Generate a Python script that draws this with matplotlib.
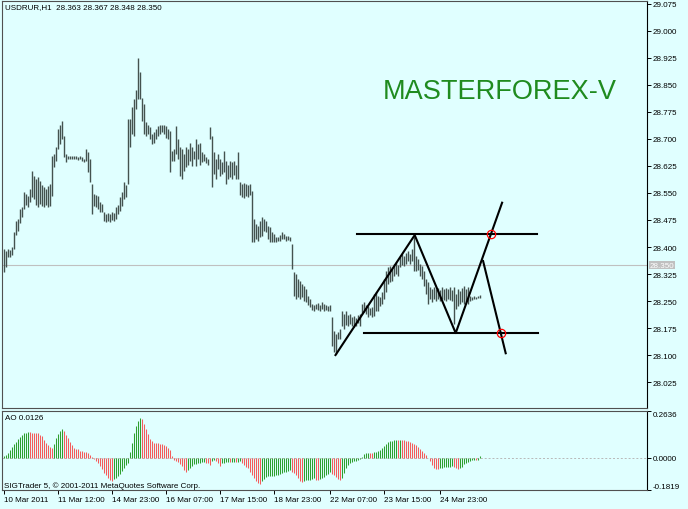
import numpy as np
import matplotlib.pyplot as plt
from matplotlib.transforms import blended_transform_factory

plt.rcParams['font.family'] = ['Liberation Sans', 'DejaVu Sans']

# USDRUR H1 bars (high / low), one per hour, oldest first
high = [
    28.394, 28.388, 28.394, 28.391, 28.399, 28.441, 28.471, 28.477, 28.505, 28.510,
    28.552, 28.546, 28.541, 28.560, 28.610, 28.596, 28.588, 28.593, 28.582, 28.571,
    28.566, 28.560, 28.568, 28.574, 28.652, 28.657, 28.677, 28.727, 28.740, 28.749,
    28.707, 28.657, 28.654, 28.652, 28.652, 28.652, 28.652, 28.649, 28.652, 28.649,
    28.643, 28.671, 28.663, 28.643, 28.574, 28.546, 28.544, 28.541, 28.524, 28.519,
    28.496, 28.491, 28.494, 28.491, 28.496, 28.494, 28.510, 28.516, 28.538, 28.552,
    28.580, 28.571, 28.754, 28.754, 28.788, 28.810, 28.837, 28.926, 28.885, 28.815,
    28.796, 28.746, 28.740, 28.732, 28.713, 28.718, 28.727, 28.735, 28.740, 28.738,
    28.738, 28.735, 28.727, 28.721, 28.666, 28.671, 28.735, 28.699, 28.677, 28.671,
    28.657, 28.679, 28.671, 28.690, 28.679, 28.666, 28.699, 28.685, 28.690, 28.663,
    28.657, 28.649, 28.643, 28.732, 28.707, 28.663, 28.643, 28.657, 28.643, 28.635,
    28.666, 28.638, 28.629, 28.638, 28.635, 28.638, 28.629, 28.663, 28.580, 28.574,
    28.577, 28.574, 28.571, 28.574, 28.555, 28.477, 28.463, 28.458, 28.471, 28.482,
    28.477, 28.471, 28.458, 28.455, 28.441, 28.436, 28.427, 28.427, 28.433, 28.441,
    28.436, 28.430, 28.430, 28.427, 28.408, 28.330, 28.324, 28.311, 28.305, 28.297,
    28.291, 28.283, 28.263, 28.255, 28.241, 28.238, 28.241, 28.244, 28.238, 28.247,
    28.241, 28.238, 28.236, 28.238, 28.205, 28.166, 28.158, 28.164, 28.172, 28.222,
    28.214, 28.222, 28.211, 28.214, 28.205, 28.208, 28.202, 28.211, 28.214, 28.241,
    28.247, 28.238, 28.236, 28.230, 28.233, 28.269, 28.275, 28.263, 28.261, 28.275,
    28.311, 28.333, 28.344, 28.347, 28.338, 28.352, 28.358, 28.349, 28.372, 28.380,
    28.374, 28.383, 28.388, 28.380, 28.394, 28.427, 28.374, 28.366, 28.352, 28.347,
    28.333, 28.311, 28.302, 28.288, 28.283, 28.288, 28.283, 28.286, 28.280, 28.288,
    28.283, 28.286, 28.283, 28.288, 28.280, 28.288, 28.269, 28.283, 28.277, 28.286,
    28.291, 28.283, 28.288, 28.263, 28.261, 28.263, 28.261, 28.263, 28.266,
]
low = [
    28.330, 28.344, 28.372, 28.372, 28.377, 28.394, 28.433, 28.444, 28.466, 28.482,
    28.505, 28.516, 28.510, 28.524, 28.538, 28.532, 28.516, 28.510, 28.519, 28.513,
    28.510, 28.516, 28.510, 28.513, 28.541, 28.621, 28.638, 28.671, 28.685, 28.699,
    28.649, 28.635, 28.643, 28.643, 28.643, 28.643, 28.643, 28.641, 28.643, 28.638,
    28.635, 28.638, 28.607, 28.580, 28.491, 28.513, 28.510, 28.505, 28.496, 28.496,
    28.471, 28.469, 28.471, 28.469, 28.474, 28.471, 28.477, 28.491, 28.499, 28.513,
    28.532, 28.538, 28.574, 28.679, 28.713, 28.707, 28.782, 28.810, 28.810, 28.749,
    28.713, 28.707, 28.713, 28.699, 28.685, 28.690, 28.699, 28.707, 28.713, 28.718,
    28.715, 28.704, 28.699, 28.607, 28.638, 28.638, 28.657, 28.643, 28.596, 28.588,
    28.610, 28.621, 28.629, 28.638, 28.624, 28.643, 28.624, 28.643, 28.629, 28.635,
    28.638, 28.632, 28.627, 28.699, 28.566, 28.602, 28.588, 28.616, 28.596, 28.602,
    28.607, 28.574, 28.588, 28.593, 28.588, 28.599, 28.588, 28.588, 28.544, 28.538,
    28.535, 28.541, 28.538, 28.544, 28.413, 28.413, 28.421, 28.416, 28.427, 28.430,
    28.444, 28.441, 28.421, 28.413, 28.413, 28.413, 28.413, 28.416, 28.416, 28.421,
    28.421, 28.416, 28.419, 28.416, 28.338, 28.263, 28.255, 28.261, 28.255, 28.261,
    28.250, 28.247, 28.238, 28.233, 28.225, 28.222, 28.227, 28.225, 28.222, 28.227,
    28.222, 28.225, 28.222, 28.222, 28.125, 28.108, 28.103, 28.144, 28.144, 28.180,
    28.172, 28.183, 28.180, 28.186, 28.180, 28.177, 28.180, 28.189, 28.180, 28.214,
    28.219, 28.214, 28.205, 28.211, 28.205, 28.208, 28.222, 28.222, 28.236, 28.241,
    28.255, 28.275, 28.297, 28.302, 28.305, 28.319, 28.324, 28.319, 28.344, 28.349,
    28.347, 28.352, 28.360, 28.352, 28.360, 28.333, 28.333, 28.336, 28.319, 28.311,
    28.291, 28.269, 28.241, 28.255, 28.247, 28.255, 28.250, 28.255, 28.250, 28.255,
    28.252, 28.250, 28.255, 28.252, 28.250, 28.186, 28.227, 28.236, 28.241, 28.247,
    28.241, 28.247, 28.241, 28.250, 28.252, 28.255, 28.255, 28.258, 28.258,
]
# Awesome Oscillator values for the same bars
ao = [
    0.009, 0.018, 0.028, 0.043, 0.058, 0.075, 0.089, 0.103, 0.116, 0.128,
    0.137, 0.142, 0.145, 0.143, 0.140, 0.139, 0.138, 0.137, 0.130, 0.122,
    0.100, 0.085, 0.070, 0.060, 0.056, 0.075, 0.110, 0.132, 0.148, 0.160,
    0.150, 0.130, 0.113, 0.090, 0.070, 0.056, 0.050, 0.047, 0.040, 0.036,
    0.032, 0.030, 0.028, 0.015, 0.003, -0.009, -0.018, -0.028, -0.045, -0.062,
    -0.085, -0.100, -0.113, -0.125, -0.132, -0.122, -0.112, -0.103, -0.090, -0.075,
    -0.056, -0.042, -0.028, 0.030, 0.085, 0.141, 0.180, 0.207, 0.226, 0.216,
    0.188, 0.160, 0.132, 0.105, 0.094, 0.085, 0.083, 0.081, 0.077, 0.075,
    0.070, 0.068, 0.055, 0.043, 0.010, -0.013, -0.018, -0.023, -0.035, -0.045,
    -0.070, -0.079, -0.070, -0.058, -0.048, -0.038, -0.035, -0.032, -0.028, -0.026,
    -0.023, -0.028, -0.032, -0.041, -0.020, -0.013, -0.018, -0.030, -0.045, -0.028,
    -0.027, -0.024, -0.022, -0.026, -0.023, -0.022, -0.026, -0.024, -0.019, -0.032,
    -0.041, -0.050, -0.060, -0.078, -0.095, -0.117, -0.132, -0.145, -0.150, -0.132,
    -0.118, -0.107, -0.104, -0.103, -0.102, -0.101, -0.100, -0.098, -0.094, -0.088,
    -0.083, -0.079, -0.074, -0.070, -0.079, -0.088, -0.098, -0.115, -0.130, -0.139,
    -0.132, -0.127, -0.126, -0.125, -0.120, -0.117, -0.124, -0.126, -0.119, -0.112,
    -0.107, -0.100, -0.094, -0.079, -0.094, -0.100, -0.110, -0.118, -0.128, -0.115,
    -0.085, -0.056, -0.040, -0.028, -0.024, -0.021, -0.019, -0.010, -0.005, 0.004,
    0.019, 0.024, 0.028, 0.027, 0.026, 0.030, 0.035, 0.040, 0.046, 0.055,
    0.066, 0.080, 0.088, 0.094, 0.096, 0.098, 0.100, 0.099, 0.101, 0.100,
    0.098, 0.096, 0.093, 0.088, 0.084, 0.079, 0.070, 0.062, 0.050, 0.040,
    0.028, 0.015, 0.000, -0.020, -0.040, -0.056, -0.062, -0.066, -0.060, -0.056,
    -0.055, -0.054, -0.052, -0.050, -0.047, -0.052, -0.058, -0.066, -0.060, -0.050,
    -0.038, -0.028, -0.022, -0.017, -0.015, -0.013, -0.014, -0.010, 0.0126,
]

time_ticks = [0, 27, 54, 81, 108, 135, 163, 190, 218]
time_labels = ['10 Mar 2011', '11 Mar 12:00', '14 Mar 23:00', '16 Mar 07:00',
               '17 Mar 15:00', '18 Mar 23:00', '22 Mar 07:00', '23 Mar 15:00',
               '24 Mar 23:00']
price_ticks = [29.075, 29.000, 28.925, 28.850, 28.775, 28.700, 28.625, 28.550,
               28.475, 28.400, 28.325, 28.250, 28.175, 28.100, 28.025]
ao_ticks = [0.2636, 0.0, -0.1819]
last_price = 28.350
header = 'USDRUR,H1  28.363 28.367 28.348 28.350'

# hand-drawn pattern: zigzag, falling leg and two levels
zig_x = [166.0, 205.6, 226.1, 249.3]
zig_y = [28.100, 28.433, 28.161, 28.523]
leg_x = [239.8, 251.1]
leg_y = [28.361, 28.105]
top_level, top_from, top_to = 28.435, 176.8, 266.5
bot_level, bot_from, bot_to = 28.160, 180.2, 267.3

bg = '#E0FFFF'
bar_col = '#44524f'
fs = 5.8
xlim = (-0.75, 321.75)   # two pixels per bar, bars on pixel centres

fig = plt.figure(figsize=(6.88, 5.10), dpi=100, facecolor=bg)
ax = fig.add_axes([2 / 688, 1 - 409 / 510, 645 / 688, 407 / 510])
ax2 = fig.add_axes([2 / 688, 19 / 510, 645 / 688, 79 / 510])

x = np.arange(len(high))

# price panel
ax.set_facecolor(bg)
ax.axhline(last_price, color='#c0c0c0', lw=0.8, zorder=0)
ax.vlines(x, low, high, colors=bar_col, lw=1.0, zorder=2)

ax.plot(zig_x, zig_y, color='black', lw=1.5, zorder=3)
ax.plot(leg_x, leg_y, color='black', lw=1.5, zorder=3)
ax.plot([top_from, top_to], [top_level, top_level], color='black', lw=1.5, zorder=3)
ax.plot([bot_from, bot_to], [bot_level, bot_level], color='black', lw=1.5, zorder=3)
# breakout points where the legs cross the levels
cx_top = np.interp(top_level, zig_y[2:], zig_x[2:])
cx_bot = np.interp(bot_level, leg_y[::-1], leg_x[::-1])
ax.plot([cx_top, cx_bot], [top_level, bot_level], 'o', mfc='none', mec='red',
        ms=6, mew=0.9, zorder=4)

ax.set_xlim(*xlim)
ax.set_ylim(27.953, 29.083)
ax.set_xticks([])
ax.yaxis.tick_right()
ax.set_yticks(price_ticks)
ax.set_yticklabels(['%.3f' % p for p in price_ticks])
ax.tick_params(axis='y', direction='out', length=3, width=0.7, pad=1,
               labelsize=fs, colors='black')
for s in ['left', 'top', 'bottom']:
    ax.spines[s].set_color('#505050')
    ax.spines[s].set_linewidth(0.8)
ax.spines['right'].set_color('black')
ax.spines['right'].set_linewidth(0.8)

tr = blended_transform_factory(ax.transAxes, ax.transData)
ax.text(1 + 3 / 645, last_price, '%.3f' % last_price, transform=tr, ha='left',
        va='center', color='white', fontsize=fs,
        bbox=dict(facecolor='#c0c0c0', edgecolor='none', pad=0.6))

# AO panel
ax2.set_facecolor(bg)
ax2.axhline(0, color='#b8b8b8', lw=0.7, ls=(0, (2, 2)), zorder=0)
ao_cols = ['#2f9f2f' if i == 0 or ao[i] > ao[i - 1] else '#f55b5b'
           for i in range(len(ao))]
ax2.vlines(x, 0, ao, colors=ao_cols, lw=0.75, zorder=2)
ax2.set_xlim(*xlim)
ax2.set_ylim(-0.1819, 0.2636)
ax2.yaxis.tick_right()
ax2.set_yticks(ao_ticks)
ax2.set_yticklabels(['%.4f' % v for v in ao_ticks])
lbls = ax2.get_yticklabels()
lbls[0].set_va('top')
lbls[2].set_va('bottom')
ax2.tick_params(axis='y', direction='out', length=3, width=0.7, pad=1,
                labelsize=fs, colors='black')
ax2.set_xticks(time_ticks)
ax2.set_xticklabels(time_labels, ha='left')
ax2.tick_params(axis='x', direction='out', length=3, width=0.7, pad=1.2,
                labelsize=fs, colors='black')
for s in ['left', 'top', 'bottom']:
    ax2.spines[s].set_color('#505050')
    ax2.spines[s].set_linewidth(0.8)
ax2.spines['right'].set_color('black')
ax2.spines['right'].set_linewidth(0.8)

fig.text(5 / 688, 1 - 7.5 / 510, header, fontsize=fs, ha='left', va='center')
fig.text(383 / 688, 1 - 92 / 510, 'MASTERFOREX-V', fontsize=19.5,
         color='#1f8b1f', ha='left', va='center')
fig.text(5 / 688, 1 - 418.5 / 510, 'AO 0.0126', fontsize=fs, ha='left', va='center')
fig.text(4 / 688, 1 - 486 / 510, 'SIGTrader 5, \u00a9 2001-2011 MetaQuotes Software Corp.',
         fontsize=fs, ha='left', va='center')

fig.savefig('out.png', dpi=100, facecolor=bg)
